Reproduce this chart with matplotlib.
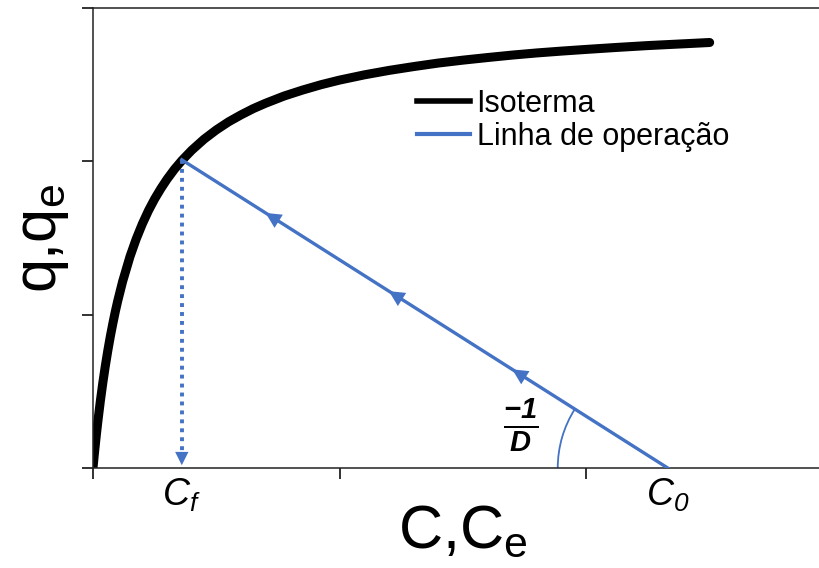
import numpy as np
import matplotlib
matplotlib.use("Agg")
import matplotlib.pyplot as plt
from matplotlib.patches import Arc
from matplotlib.lines import Line2D

plt.rcParams['font.family'] = ['Liberation Sans', 'DejaVu Sans']
plt.rcParams['mathtext.fontset'] = 'custom'
plt.rcParams['mathtext.rm'] = 'Liberation Sans'
plt.rcParams['mathtext.it'] = 'Liberation Sans:italic'
plt.rcParams['mathtext.sf'] = 'Liberation Sans:italic'
plt.rcParams['mathtext.bf'] = 'Liberation Sans:bold:italic'

# isotherm
c_iso = [0, 0.0025, 0.005, 0.01, 0.015, 0.02, 0.03, 0.04, 0.05, 0.06, 0.07,
         0.08, 0.09, 0.1, 0.12, 0.15, 0.175, 0.2, 0.225, 0.25, 0.275, 0.3,
         0.33, 0.36, 0.4, 0.45, 0.5, 0.55, 0.6, 0.65, 0.7, 0.775, 0.85,
         0.925, 1.0, 1.1, 1.2, 1.3, 1.4, 1.5, 1.6, 1.7, 1.8, 1.9, 2.0,
         2.125, 2.25, 2.375, 2.5]
q_iso = [0, 0.042, 0.084, 0.162, 0.237, 0.308, 0.439, 0.558, 0.666, 0.765,
         0.856, 0.939, 1.017, 1.088, 1.216, 1.379, 1.493, 1.592, 1.679,
         1.755, 1.822, 1.883, 1.948, 2.005, 2.072, 2.144, 2.205, 2.258,
         2.303, 2.344, 2.379, 2.426, 2.465, 2.500, 2.530, 2.564, 2.593,
         2.618, 2.641, 2.660, 2.677, 2.693, 2.707, 2.719, 2.730, 2.743,
         2.755, 2.765, 2.775]

# operating line: (Cf, qf) -> (C0, 0)
c_op = [0.36, 2.33]
q_op = [2.01, 0.0]
arrow_x = [0.74, 1.24, 1.74]

ticks = [0, 1, 2, 3]
labels_x = ['$\\mathsf{C_f}$', '$\\mathsf{C_0}$']

blue = '#4472C4'

fig = plt.figure(figsize=(8.2, 5.68), dpi=100)
ax = fig.add_axes([93/820, 100/568, 740/820, 460/568])

ax.plot(c_iso, q_iso, color='black', lw=6.5, solid_capstyle='round',
        solid_joinstyle='round', zorder=2)
ax.plot(c_op, q_op, color=blue, lw=2.4, zorder=3)

# arrows along operating line
slope = (q_op[1] - q_op[0]) / (c_op[1] - c_op[0])
for xa in arrow_x:
    ya = q_op[0] + slope * (xa - c_op[0])
    dx = -0.05
    ax.annotate('', xy=(xa + dx, ya + slope * dx), xytext=(xa, ya),
                arrowprops=dict(arrowstyle='-|>', color=blue, lw=0,
                                mutation_scale=28), zorder=4)

# dotted drop line with arrow
ax.plot([c_op[0], c_op[0]], [q_op[0], 0.1], color=blue, lw=2.8,
        linestyle=(0, (1, 1.3)), zorder=3)
ax.annotate('', xy=(c_op[0], 0.0), xytext=(c_op[0], 0.14),
            arrowprops=dict(arrowstyle='-|>', color=blue, lw=0,
                            mutation_scale=24), zorder=4)

# angle arc at C0
ang = np.degrees(np.arctan2(q_op[0] - q_op[1], c_op[0] - c_op[1]))
arc = Arc((c_op[1], 0), 2 * 110 / 246.7, 2 * 110 / 153.3, theta1=ang,
          theta2=180, color=blue, lw=1.3)
ax.add_patch(arc)
ax.text(1.735, 0.28, r'$\frac{\mathbf{-1}}{\mathbf{D}}$', fontsize=30,
        ha='center', va='center')

ax.set_xlim(0, 3)
ax.set_ylim(0, 3)
ax.set_xticks(ticks)
ax.set_yticks(ticks)
ax.set_xticklabels([])
ax.set_yticklabels([])
ax.tick_params(direction='out', length=8, width=1.3, color='#222222')
for s in ax.spines.values():
    s.set_linewidth(1.1)
    s.set_color('#222222')

ax.text(c_op[0], -0.06, labels_x[0], fontsize=27, ha='center', va='top')
ax.text(c_op[1], -0.06, labels_x[1], fontsize=27, ha='center', va='top')

ax.set_xlabel('C,C$_\\mathrm{e}$', fontsize=44, labelpad=14)
ax.set_ylabel('q,q$_\\mathrm{e}$', fontsize=44, labelpad=4)

handles = [Line2D([], [], color='black', lw=4),
           Line2D([], [], color=blue, lw=3)]
ax.legend(handles, ['Isoterma', 'Linha de operação'], loc='upper left',
          bbox_to_anchor=(417/820, 1 - 89/568), bbox_transform=fig.transFigure,
          frameon=False, fontsize=22, handlelength=1.75, handletextpad=0.2,
          labelspacing=0.1, borderpad=0, borderaxespad=0)

fig.savefig('out.png', dpi=100)
